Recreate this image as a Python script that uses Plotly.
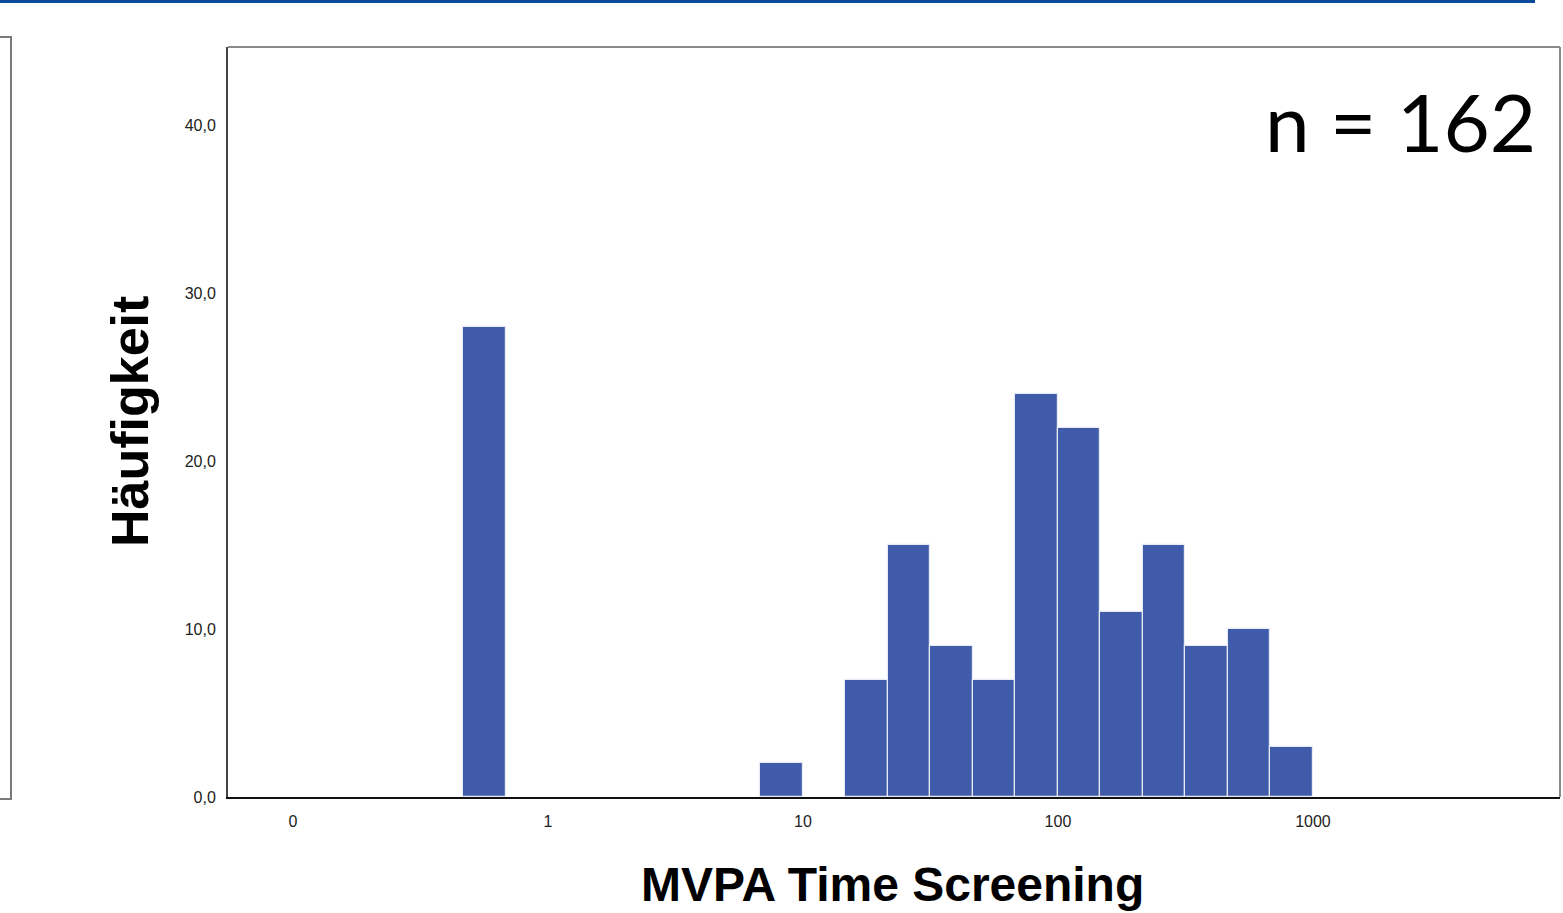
import plotly.graph_objects as go

# Histogram of MVPA screening time on a log10 axis, bins 1/6 decade wide.
# Bin start positions in sixths of a decade (0 = value 1, 6 = value 10, ...)
bin_start_sixths = [-2, 5, 7, 8, 9, 10, 11, 12, 13, 14, 15, 16, 17]
counts = [28, 2, 7, 15, 9, 7, 24, 22, 11, 15, 9, 10, 3]

x_tick_pos = [-1, 0, 1, 2, 3]
x_tick_text = ["0", "1", "10", "100", "1000"]
y_tick_vals = [0, 10, 20, 30, 40]

n_total = sum(counts)

W, H = 1563, 913
L, R, T, B = 228, 1560, 47, 797  # plot area in pixels


def px(x):
    return (x - L) / (R - L)


def py(y):
    return (B - y) / (B - T)


bin_centers = [(s + 0.5) / 6 for s in bin_start_sixths]

fig = go.Figure(
    go.Bar(
        x=bin_centers,
        y=counts,
        width=1 / 6,
        marker=dict(color="#3f5ba9", line=dict(color="#e6ebf5", width=1.2)),
        hoverinfo="y",
    )
)

fig.update_layout(
    width=W,
    height=H,
    margin=dict(l=L, r=W - R, t=T, b=H - B),
    paper_bgcolor="white",
    plot_bgcolor="white",
    separators=",.",
    showlegend=False,
    bargap=0,
    font=dict(family="Liberation Sans, Arial, sans-serif", color="#222"),
)

fig.update_xaxes(
    range=[-1.255, 3.969],
    tickvals=x_tick_pos,
    ticktext=x_tick_text,
    ticks="",
    tickfont=dict(size=16, color="#222"),
    ticklabelstandoff=9,
    showgrid=False,
    zeroline=False,
    showline=True,
    linecolor="#111",
    linewidth=2,
)
fig.update_yaxes(
    range=[0, 44.7],
    tickvals=y_tick_vals,
    tickformat=".1f",
    ticks="",
    tickfont=dict(size=16, color="#222"),
    ticklabelstandoff=7,
    showgrid=False,
    zeroline=False,
    showline=True,
    linecolor="#444",
    linewidth=2,
)

shapes = [
    # top and right edges of the plot frame
    dict(type="line", xref="paper", yref="paper", x0=0, x1=1, y0=1, y1=1,
         line=dict(color="#8a8a8a", width=2)),
    dict(type="line", xref="paper", yref="paper", x0=1, x1=1, y0=0, y1=1,
         line=dict(color="#8a8a8a", width=2)),
    # blue rule along the top of the page
    dict(type="rect", xref="paper", yref="paper",
         x0=px(0), x1=px(1535), y0=py(3), y1=py(0),
         fillcolor="#0b4a9a", line=dict(width=0)),
    # right edge of the neighbouring frame on the left
    dict(type="path", xref="paper", yref="paper",
         path=f"M {px(0)},{py(37)} L {px(11)},{py(37)} L {px(11)},{py(799)} L {px(0)},{py(799)}",
         line=dict(color="#7a7a7a", width=2)),
]

annotations = [
    dict(text="<b>MVPA Time Screening</b>", xref="paper", yref="paper",
         x=px(892), y=py(884), xanchor="center", yanchor="middle", showarrow=False,
         font=dict(size=48, color="black", family="Liberation Sans, Arial, sans-serif")),
    dict(text="<b>Häufigkeit</b>", xref="paper", yref="paper", textangle=-90,
         x=px(130), y=py(422), xanchor="center", yanchor="middle", showarrow=False,
         font=dict(size=52, color="black", family="Liberation Sans, Arial, sans-serif")),
    dict(text=f"n = {n_total}", xref="paper", yref="paper",
         x=px(1538), y=py(121), xanchor="right", yanchor="middle", showarrow=False,
         font=dict(size=80, color="black", family="Lato, Open Sans, sans-serif")),
]

fig.update_layout(shapes=shapes, annotations=annotations)

fig.write_html("out.html")
